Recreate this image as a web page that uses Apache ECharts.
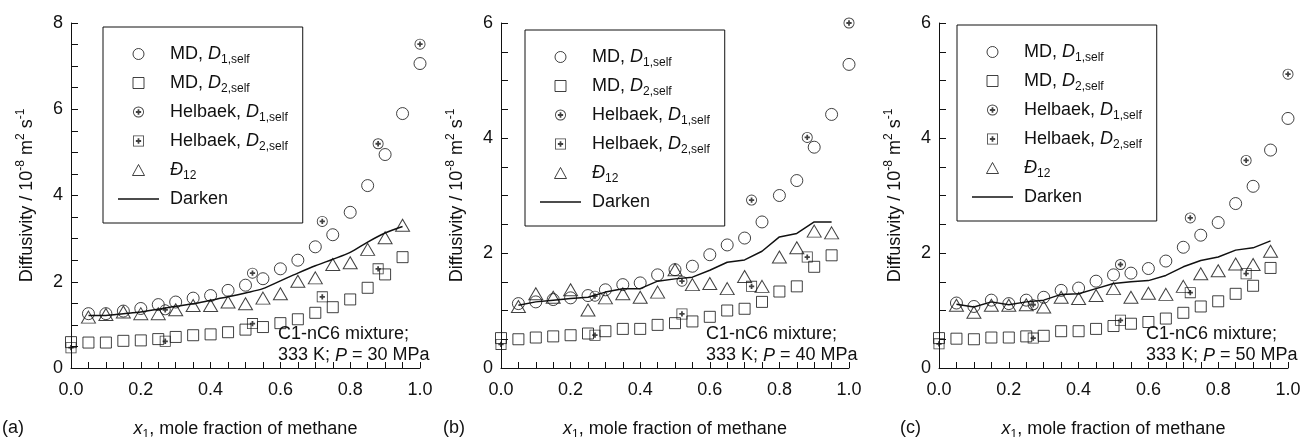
<!DOCTYPE html>
<html>
<head>
<meta charset="utf-8">
<script src="https://cdn.jsdelivr.net/npm/echarts@6/dist/echarts.min.js"></script>
<style>
html, body { margin: 0; padding: 0; background: #fff; }
#main { width: 1303px; height: 437px; }
</style>
</head>
<body>
<div id="main"></div>
<script>
// x positions (mole fraction of methane)
var xMD1 = [0.05, 0.10, 0.15, 0.20, 0.25, 0.30, 0.35, 0.40, 0.45, 0.50, 0.55, 0.60, 0.65, 0.70, 0.75, 0.80, 0.85, 0.90, 0.95, 1.00];
var xMD2 = [0.00, 0.05, 0.10, 0.15, 0.20, 0.25, 0.30, 0.35, 0.40, 0.45, 0.50, 0.55, 0.60, 0.65, 0.70, 0.75, 0.80, 0.85, 0.90, 0.95];
var xHel1 = [0.27, 0.52, 0.72, 0.88, 1.00];
var xHel2 = [0.00, 0.27, 0.52, 0.72, 0.88];
var xTri = [0.05, 0.10, 0.15, 0.20, 0.25, 0.30, 0.35, 0.40, 0.45, 0.50, 0.55, 0.60, 0.65, 0.70, 0.75, 0.80, 0.85, 0.90, 0.95];
var xDarken = xTri;

// (a) P = 30 MPa
var md1A = [1.26, 1.26, 1.32, 1.38, 1.47, 1.53, 1.62, 1.68, 1.80, 1.92, 2.07, 2.30, 2.50, 2.81, 3.09, 3.61, 4.23, 4.95, 5.90, 7.06];
var md2A = [0.60, 0.59, 0.59, 0.63, 0.64, 0.67, 0.72, 0.76, 0.78, 0.83, 0.89, 0.95, 1.04, 1.13, 1.28, 1.41, 1.59, 1.86, 2.17, 2.57];
var hel1A = [1.35, 2.20, 3.40, 5.20, 7.51];
var hel2A = [0.47, 0.62, 1.03, 1.65, 2.30];
var triA = [1.18, 1.24, 1.30, 1.26, 1.26, 1.35, 1.45, 1.45, 1.53, 1.49, 1.62, 1.72, 2.01, 2.09, 2.40, 2.44, 2.75, 3.02, 3.31];
var darkenA = [1.22, 1.22, 1.26, 1.30, 1.36, 1.43, 1.49, 1.57, 1.65, 1.74, 1.84, 2.02, 2.20, 2.37, 2.52, 2.68, 2.92, 3.13, 3.28];

// (b) P = 40 MPa
var md1B = [1.12, 1.15, 1.19, 1.22, 1.26, 1.36, 1.45, 1.48, 1.62, 1.71, 1.77, 1.97, 2.14, 2.26, 2.54, 3.00, 3.26, 3.84, 4.41, 5.28];
var md2B = [0.52, 0.50, 0.53, 0.55, 0.57, 0.60, 0.64, 0.68, 0.68, 0.75, 0.78, 0.81, 0.89, 1.00, 1.03, 1.15, 1.33, 1.42, 1.76, 1.96];
var hel1B = [1.25, 1.51, 2.92, 4.01, 6.00];
var hel2B = [0.41, 0.57, 0.94, 1.42, 1.93];
var triB = [1.07, 1.29, 1.23, 1.36, 1.01, 1.22, 1.29, 1.23, 1.32, 1.71, 1.45, 1.47, 1.38, 1.59, 1.42, 1.93, 2.09, 2.38, 2.35];
var darkenB = [1.09, 1.15, 1.18, 1.21, 1.23, 1.32, 1.38, 1.38, 1.51, 1.55, 1.58, 1.70, 1.84, 1.88, 2.03, 2.28, 2.34, 2.54, 2.54];

// (c) P = 50 MPa
var md1C = [1.13, 1.07, 1.18, 1.12, 1.18, 1.23, 1.35, 1.39, 1.51, 1.62, 1.65, 1.73, 1.86, 2.10, 2.31, 2.53, 2.86, 3.16, 3.79, 4.34];
var md2C = [0.52, 0.51, 0.50, 0.53, 0.53, 0.55, 0.56, 0.64, 0.64, 0.68, 0.73, 0.77, 0.80, 0.86, 0.96, 1.07, 1.16, 1.29, 1.43, 1.74];
var hel1C = [1.10, 1.80, 2.61, 3.61, 5.11];
var hel2C = [0.42, 0.52, 0.83, 1.31, 1.64];
var triC = [1.09, 0.97, 1.09, 1.09, 1.10, 1.06, 1.23, 1.21, 1.26, 1.38, 1.23, 1.30, 1.28, 1.42, 1.64, 1.69, 1.81, 1.80, 2.03];
var darkenC = [1.11, 1.06, 1.15, 1.10, 1.15, 1.18, 1.28, 1.29, 1.38, 1.47, 1.50, 1.52, 1.61, 1.76, 1.87, 1.93, 2.05, 2.09, 2.21];

var pressures = ['30', '40', '50'];
var panelTags = ['(a)', '(b)', '(c)'];
var yMax = [8, 6, 6];

var FONT = '"Liberation Sans", Arial, sans-serif';
var INK = '#111';
var FS = 18;

// circle / square outline with a bold plus inside (filled, nonzero winding)
var circlePlus = 'path://M10,0A10,10,0,1,1,-10,0A10,10,0,1,1,10,0Z' +
    'M8.4,0A8.4,8.4,0,1,0,-8.4,0A8.4,8.4,0,1,0,8.4,0Z' +
    'M-1.6,-4.8H1.6V-1.6H4.8V1.6H1.6V4.8H-1.6V1.6H-4.8V-1.6H-1.6Z';
var squarePlus = 'path://M-10,-10H10V10H-10Z' +
    'M-8.5,-8.5V8.5H8.5V-8.5Z' +
    'M-1.6,-4.8H1.6V-1.6H4.8V1.6H1.6V4.8H-1.6V1.6H-4.8V-1.6H-1.6Z';
// legend-only icons (paths keep their aspect ratio)
var squareIcon = 'path://M0,0H10V10H0Z';
var triangleIcon = 'path://M6,0L12,11H0Z';
var lineIcon = 'path://M0,0H41V1.4H0Z';

var hollow = { color: 'rgba(0,0,0,0)', borderColor: INK, borderWidth: 1 };
var solid = { color: INK, borderWidth: 0 };

var legendText = {
    'MD1': 'MD, {i|D}{sub|1,self}',
    'MD2': 'MD, {i|D}{sub|2,self}',
    'Hel1': 'Helbaek, {i|D}{sub|1,self}',
    'Hel2': 'Helbaek, {i|D}{sub|2,self}',
    'D12': '{i|\u0110}{sub|12}',
    'Darken': 'Darken'
};

var rich = {
    i: { fontStyle: 'italic', fontSize: FS, fontFamily: FONT, color: INK },
    sub: { fontSize: 12, fontFamily: FONT, color: INK, padding: [12, 0, 0, 0] },
    sup: { fontSize: 12, fontFamily: FONT, color: INK, padding: [0, 0, 12, 0] }
};

function pairs(xs, ys) {
    return xs.map(function (x, i) { return [x, ys[i]]; });
}

var panels = [
    { md1: md1A, md2: md2A, hel1: hel1A, hel2: hel2A, tri: triA, darken: darkenA, smooth: 0.3 },
    { md1: md1B, md2: md2B, hel1: hel1B, hel2: hel2B, tri: triB, darken: darkenB, smooth: false },
    { md1: md1C, md2: md2C, hel1: hel1C, hel2: hel2C, tri: triC, darken: darkenC, smooth: false }
];

var gridLeft = [71, 501, 939];
var gridWidth = [349, 348, 349];
var legendPos = [[103, 27], [525, 30], [957, 25]];
var notePos = [278, 706, 1146];
var tagPos = [2, 443, 900];

var grids = [], xAxes = [], yAxes = [], legends = [], series = [], graphics = [];

panels.forEach(function (p, k) {
    grids.push({ left: gridLeft[k], top: 23, width: gridWidth[k], height: 345, outerBoundsMode: 'none' });

    xAxes.push({
        gridIndex: k, type: 'value', min: 0, max: 1, interval: 0.2,
        name: '{i|x}{sub|1}, mole fraction of methane',
        nameLocation: 'middle', nameGap: 49,
        nameTextStyle: { fontSize: FS, fontFamily: FONT, color: INK, rich: rich },
        axisLine: { lineStyle: { color: INK, width: 1 } },
        axisTick: { inside: true, length: 6, lineStyle: { color: INK } },
        minorTick: { show: true, splitNumber: 4, length: 6, lineStyle: { color: INK } },
        axisLabel: {
            margin: 13, fontSize: FS, fontFamily: FONT, color: INK,
            formatter: function (v) { return v.toFixed(1); }
        },
        splitLine: { show: false }
    });

    yAxes.push({
        gridIndex: k, type: 'value', min: 0, max: yMax[k], interval: 2,
        name: 'Diffusivity / 10{sup|-8} m{sup|2} s{sup|-1}',
        nameLocation: 'middle', nameGap: 32, nameRotate: 90,
        nameTextStyle: { fontSize: FS, fontFamily: FONT, color: INK, rich: rich },
        axisLine: { show: true, lineStyle: { color: INK, width: 1 } },
        axisTick: { inside: true, length: 7, lineStyle: { color: INK } },
        minorTick: { show: true, splitNumber: 4, length: 7, lineStyle: { color: INK } },
        axisLabel: { margin: 8, fontSize: FS, fontFamily: FONT, color: INK },
        splitLine: { show: false }
    });

    legends.push({
        left: legendPos[k][0], top: legendPos[k][1],
        orient: 'vertical', selectedMode: false,
        itemWidth: 41, itemHeight: 11, itemGap: 8,
        padding: [18, 15, 15, 15],
        borderColor: INK, borderWidth: 1,
        textStyle: { fontSize: FS, fontFamily: FONT, color: INK, padding: [0, 0, 0, 6], rich: rich },
        formatter: function (name) { return legendText[name]; },
        data: [
            { name: 'MD1', icon: 'circle', itemStyle: hollow },
            { name: 'MD2', icon: squareIcon, itemStyle: hollow },
            { name: 'Hel1', icon: circlePlus, itemStyle: solid },
            { name: 'Hel2', icon: squarePlus, itemStyle: solid },
            { name: 'D12', icon: triangleIcon, itemStyle: hollow },
            { name: 'Darken', icon: lineIcon, itemStyle: solid }
        ]
    });

    series.push(
        { name: 'MD1', type: 'scatter', xAxisIndex: k, yAxisIndex: k, symbol: 'circle', symbolSize: 12,
          itemStyle: hollow, data: pairs(xMD1, p.md1) },
        { name: 'MD2', type: 'scatter', xAxisIndex: k, yAxisIndex: k, symbol: 'rect', symbolSize: 11,
          itemStyle: hollow, data: pairs(xMD2, p.md2) },
        { name: 'Hel1', type: 'scatter', xAxisIndex: k, yAxisIndex: k, symbol: circlePlus, symbolSize: 11,
          itemStyle: solid, data: pairs(xHel1, p.hel1) },
        { name: 'Hel2', type: 'scatter', xAxisIndex: k, yAxisIndex: k, symbol: squarePlus, symbolSize: 11,
          itemStyle: solid, data: pairs(xHel2, p.hel2) },
        { name: 'D12', type: 'scatter', xAxisIndex: k, yAxisIndex: k, symbol: 'triangle', symbolSize: [14, 12],
          itemStyle: hollow, data: pairs(xTri, p.tri) },
        { name: 'Darken', type: 'line', xAxisIndex: k, yAxisIndex: k, symbol: 'none', showSymbol: false,
          smooth: p.smooth, lineStyle: { color: INK, width: 1.5 }, itemStyle: { color: INK },
          data: pairs(xDarken, p.darken) }
    );

    graphics.push({
        type: 'text', left: notePos[k], top: 324,
        style: {
            text: 'C1-nC6 mixture;\n333 K; {i|P} = ' + pressures[k] + ' MPa',
            fontSize: FS, fontFamily: FONT, fill: INK, lineHeight: 21, rich: rich
        }
    });
    graphics.push({
        type: 'text', left: tagPos[k], top: 419,
        style: { text: panelTags[k], fontSize: FS, fontFamily: FONT, fill: INK }
    });
});

var myChart = echarts.init(document.getElementById('main'), null, { renderer: 'canvas' });
myChart.setOption({
    animation: false,
    backgroundColor: '#fff',
    grid: grids,
    xAxis: xAxes,
    yAxis: yAxes,
    legend: legends,
    series: series,
    graphic: graphics
});
</script>
</body>
</html>
